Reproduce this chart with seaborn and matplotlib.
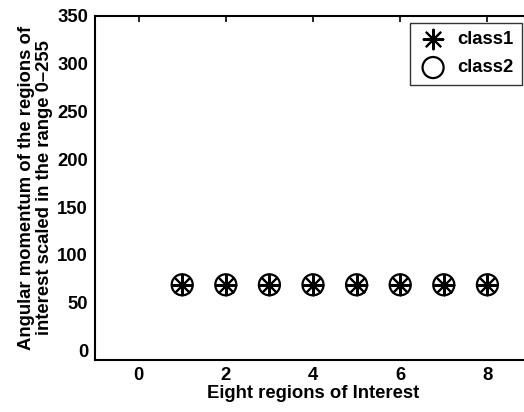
import matplotlib
matplotlib.use("Agg")
import matplotlib.pyplot as plt
import seaborn as sns
import pandas as pd

regions = [1, 2, 3, 4, 5, 6, 7, 8]
class1 = [68.7, 68.7, 68.7, 68.7, 68.7, 68.7, 68.7, 68.7]
class2 = [68.7, 68.7, 68.7, 68.7, 68.7, 68.7, 68.7, 68.7]
x_ticks = [0, 2, 4, 6, 8]
y_ticks = [0, 50, 100, 150, 200, 250, 300, 350]

sns.set_style("white")
plt.rcParams['font.family'] = ['Liberation Sans', 'DejaVu Sans']
plt.rcParams['font.weight'] = 'bold'
plt.rcParams['text.color'] = 'black'
plt.rcParams['axes.labelcolor'] = 'black'
plt.rcParams['xtick.color'] = 'black'
plt.rcParams['ytick.color'] = 'black'

FS = 13.3
fig = plt.figure(figsize=(5.24, 4.12), dpi=100)
W, H = 524, 412
ax = fig.add_axes([95 / W, 1 - 360 / H, 436 / W, 344 / H])

df1 = pd.DataFrame({"x": regions, "y": class1})
df2 = pd.DataFrame({"x": regions, "y": class2})
sns.scatterplot(data=df1, x="x", y="y", ax=ax, marker=(8, 2, 0), s=200,
                color="black", linewidth=1.5, label="class1")
sns.scatterplot(data=df2, x="x", y="y", ax=ax, marker="o", s=230,
                facecolors="none", edgecolor="black", linewidth=1.6, label="class2")

ax.set_xlim(-1, 9)
ax.set_ylim(-10, 350)
ax.set_xticks(x_ticks)
ax.set_yticks(y_ticks)
ax.tick_params(direction="in", top=True, right=False, length=4, width=1.2,
               labelsize=FS, pad=5, colors="black")
for lab in ax.get_xticklabels() + ax.get_yticklabels():
    lab.set_fontweight("bold")
for sp in ax.spines.values():
    sp.set_linewidth(1.5)
    sp.set_color("black")
ax.spines["right"].set_visible(False)

ax.set_xlabel("Eight regions of Interest", fontsize=FS, fontweight="bold", labelpad=1)
ax.set_ylabel("Angular momentum of the regions of\ninterest scaled in the range 0\u2013255",
              fontsize=FS, fontweight="bold", labelpad=3, linespacing=1.05)

leg = ax.legend(loc="upper left", bbox_to_anchor=(410 / W, 1 - 23 / H),
                bbox_transform=fig.transFigure, borderaxespad=0,
                frameon=True, fancybox=False, edgecolor="black",
                prop={"weight": "bold", "size": FS}, handletextpad=0.5,
                labelspacing=0.6, borderpad=0.45, handlelength=1.6)
leg.get_frame().set_linewidth(1.0)

fig.savefig("out.png", dpi=100)
